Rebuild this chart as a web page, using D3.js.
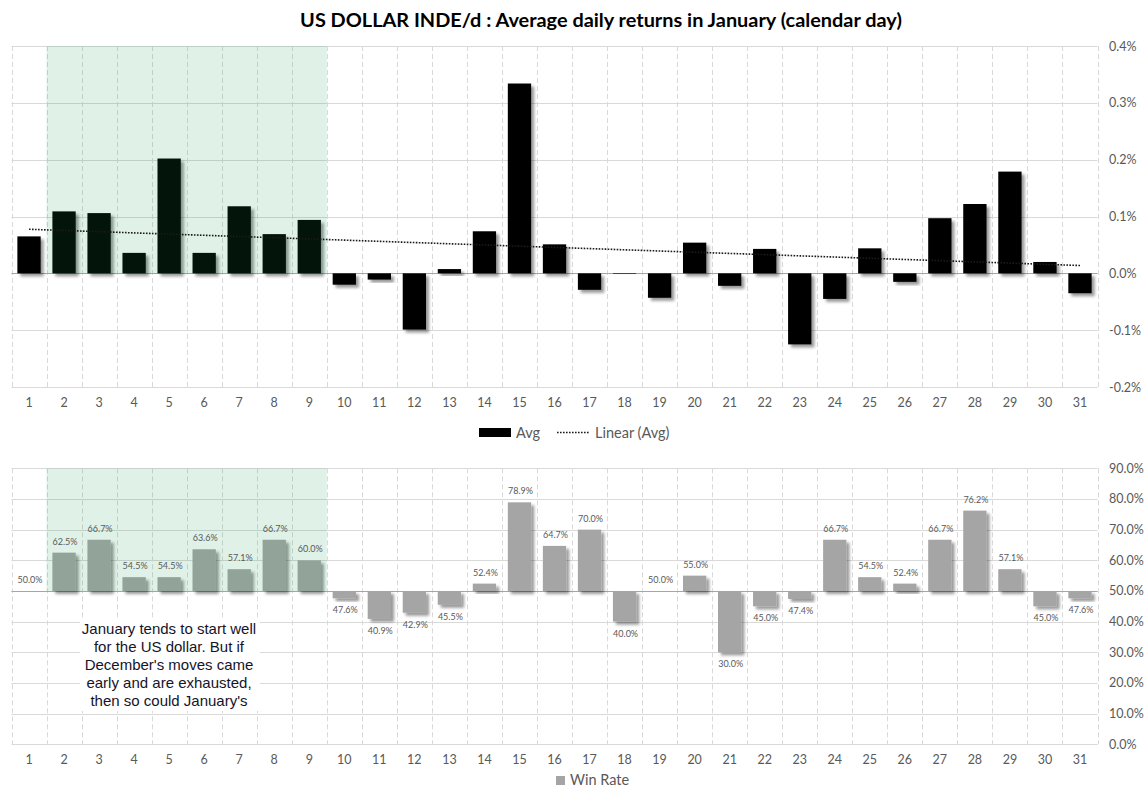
<!DOCTYPE html>
<html lang="en">
<head>
<meta charset="UTF-8">
<title>US Dollar Index - January seasonality</title>
<script src="https://d3js.org/d3.v7.min.js"></script>
<style>
    body { margin: 0; background: #fff; }
    svg { display: block; }
    text { font-family: Lato, "Open Sans", sans-serif; }
</style>
</head>
<body>
<svg width="1148" height="792"></svg>
<script>
    // days of january
    const days = d3.range(1, 32)

    // average daily return, in percent
    const avgReturn = [
        0.065, 0.109, 0.106, 0.036, 0.202, 0.036, 0.118, 0.069, 0.094, -0.020,
        -0.011, -0.099, 0.0075, 0.074, 0.334, 0.051, -0.029, -0.001, -0.043, 0.054,
        -0.022, 0.043, -0.125, -0.045, 0.044, -0.015, 0.097, 0.122, 0.179, 0.020,
        -0.035
    ]

    // share of up days, in percent
    const winRate = [
        50.0, 62.5, 66.7, 54.5, 54.5, 63.6, 57.1, 66.7, 60.0, 47.6,
        40.9, 42.9, 45.5, 52.4, 78.9, 64.7, 70.0, 40.0, 50.0, 55.0,
        30.0, 45.0, 47.4, 66.7, 54.5, 52.4, 66.7, 76.2, 57.1, 45.0,
        47.6
    ]

    const avgTicks = [-0.2, -0.1, 0, 0.1, 0.2, 0.3, 0.4]
    const winTicks = [0, 10, 20, 30, 40, 50, 60, 70, 80, 90]

    // shaded days (2 to 9)
    const shadeDays = [2, 9]

    const noteLines = [
        'January tends to start well',
        'for the US dollar. But if',
        "December's moves came",
        'early and are exhausted,',
        "then so could January's"
    ]

    const svg = d3.select('svg')
    const grid = '#d9d9d9'
    const axisText = '#595959'

    // shadow for the bars
    const defs = svg.append('defs')
    defs.append('filter')
        .attr('id', 'shadow')
        .attr('x', '-20%').attr('y', '-20%')
        .attr('width', '160%').attr('height', '160%')
        .append('feDropShadow')
        .attr('dx', 3).attr('dy', 3)
        .attr('stdDeviation', 1.6)
        .attr('flood-color', '#000')
        .attr('flood-opacity', 0.4)

    const x = d3.scaleBand().domain(days).range([11.5, 1097.5])
    const barW = x.bandwidth() * 0.665
    const cx = d => x(d) + x.bandwidth() / 2

    // title
    svg.append('text')
        .attr('x', 601).attr('y', 27)
        .attr('text-anchor', 'middle')
        .attr('font-size', 19.9)
        .attr('font-weight', 'bold')
        .attr('fill', '#000')
        .text('US DOLLAR INDE/d : Average daily returns in January (calendar day)')

    function drawPanel (opt) {
        const y = opt.y
        const g = svg.append('g')

        // horizontal grid
        g.append('g').selectAll('line')
            .data(opt.ticks)
            .join('line')
            .attr('x1', x.range()[0]).attr('x2', x.range()[1])
            .attr('y1', d => Math.round(y(d)) + 0.5)
            .attr('y2', d => Math.round(y(d)) + 0.5)
            .attr('stroke', grid)

        // vertical dashed grid at category edges
        const edges = days.map(d => x(d)).concat([x.range()[1]])
        g.append('g').selectAll('line')
            .data(edges)
            .join('line')
            .attr('x1', d => Math.round(d) + 0.5).attr('x2', d => Math.round(d) + 0.5)
            .attr('y1', y.range()[1]).attr('y2', y.range()[0])
            .attr('stroke', grid)
            .attr('stroke-dasharray', '5,3')

        // baseline
        g.append('line')
            .attr('x1', x.range()[0]).attr('x2', x.range()[1])
            .attr('y1', Math.round(y(opt.base)) + 0.5)
            .attr('y2', Math.round(y(opt.base)) + 0.5)
            .attr('stroke', '#a6a6a6')

        // bars
        g.append('g').selectAll('rect')
            .data(days)
            .join('rect')
            .attr('x', d => cx(d) - barW / 2)
            .attr('width', barW)
            .attr('y', (d, i) => y(Math.max(opt.values[i], opt.base)))
            .attr('height', (d, i) => Math.abs(y(opt.values[i]) - y(opt.base)))
            .attr('fill', opt.color)
            .attr('filter', 'url(#shadow)')

        // green highlight over days 2-9
        g.append('rect')
            .attr('x', x(shadeDays[0]))
            .attr('width', x(shadeDays[1]) + x.bandwidth() - x(shadeDays[0]))
            .attr('y', y.range()[1])
            .attr('height', y(opt.base) - y.range()[1])
            .attr('fill', 'rgb(22,150,80)')
            .attr('fill-opacity', 0.135)

        // right axis labels
        g.append('g').selectAll('text')
            .data(opt.ticks)
            .join('text')
            .attr('x', 1109)
            .attr('y', d => y(d) + 4.5)
            .attr('font-size', 12.5)
            .attr('fill', axisText)
            .text(opt.format)

        // day labels
        g.append('g').selectAll('text')
            .data(days)
            .join('text')
            .attr('x', d => cx(d))
            .attr('y', opt.dayY)
            .attr('text-anchor', 'middle')
            .attr('font-size', 12.5)
            .attr('fill', axisText)
            .text(d => d)

        return g
    }

    // ---- top panel : average returns ----
    const yTop = d3.scaleLinear().domain([-0.2, 0.4]).range([387, 46])
    const fmtTop = d => (d < 0 ? '-' : '') + Math.abs(d).toFixed(1) + '%'
    const topPanel = drawPanel({
        y: yTop, ticks: avgTicks, base: 0, values: avgReturn,
        color: '#000', format: fmtTop, dayY: 407
    })

    // linear trend of the averages
    const n = days.length
    const mx = d3.mean(days)
    const my = d3.mean(avgReturn)
    const slope = d3.sum(days, (d, i) => (d - mx) * (avgReturn[i] - my)) /
        d3.sum(days, d => (d - mx) * (d - mx))
    const trend = d => my + slope * (d - mx)
    topPanel.append('line')
        .attr('x1', cx(days[0])).attr('x2', cx(days[n - 1]))
        .attr('y1', yTop(trend(days[0]))).attr('y2', yTop(trend(days[n - 1])))
        .attr('stroke', '#1a1a1a')
        .attr('stroke-width', 1.6)
        .attr('stroke-dasharray', '1.6,1.4')

    // top legend
    const lg = svg.append('g')
    lg.append('rect').attr('x', 479).attr('y', 428).attr('width', 32).attr('height', 9).attr('fill', '#000')
    lg.append('text').attr('x', 516).attr('y', 438).attr('font-size', 14.5).attr('fill', axisText).text('Avg')
    lg.append('line')
        .attr('x1', 557).attr('x2', 590).attr('y1', 432.5).attr('y2', 432.5)
        .attr('stroke', '#1a1a1a').attr('stroke-width', 1.6).attr('stroke-dasharray', '1.6,1.4')
    lg.append('text').attr('x', 595).attr('y', 438).attr('font-size', 14.5).attr('fill', axisText).text('Linear (Avg)')

    // ---- bottom panel : win rate ----
    const yBot = d3.scaleLinear().domain([0, 90]).range([744.3, 468.3])
    const fmtBot = d => d.toFixed(1) + '%'
    const botPanel = drawPanel({
        y: yBot, ticks: winTicks, base: 50, values: winRate,
        color: '#a5a5a5', format: fmtBot, dayY: 764
    })

    // value labels
    botPanel.append('g').selectAll('text')
        .data(days)
        .join('text')
        .attr('x', d => cx(d) + 1)
        .attr('y', (d, i) => winRate[i] >= 50 ? yBot(winRate[i]) - 8 : yBot(winRate[i]) + 15)
        .attr('text-anchor', 'middle')
        .attr('font-size', 9)
        .attr('fill', axisText)
        .text((d, i) => fmtBot(winRate[i]))

    // bottom legend
    const lg2 = svg.append('g')
    lg2.append('rect').attr('x', 556).attr('y', 776).attr('width', 9).attr('height', 9).attr('fill', '#a5a5a5')
    lg2.append('text').attr('x', 570).attr('y', 785).attr('font-size', 14.5).attr('fill', axisText).text('Win Rate')

    // note box
    const note = svg.append('g')
    note.append('rect')
        .attr('x', 80).attr('y', 619).attr('width', 180).attr('height', 92)
        .attr('fill', '#fff')
    note.selectAll('text')
        .data(noteLines)
        .join('text')
        .attr('x', 169)
        .attr('y', (d, i) => 633.5 + i * 18)
        .attr('text-anchor', 'middle')
        .style('font-family', '"Liberation Sans", Arial, sans-serif')
        .attr('font-size', 15)
        .attr('fill', '#14142a')
        .text(d => d)
</script>
</body>
</html>
